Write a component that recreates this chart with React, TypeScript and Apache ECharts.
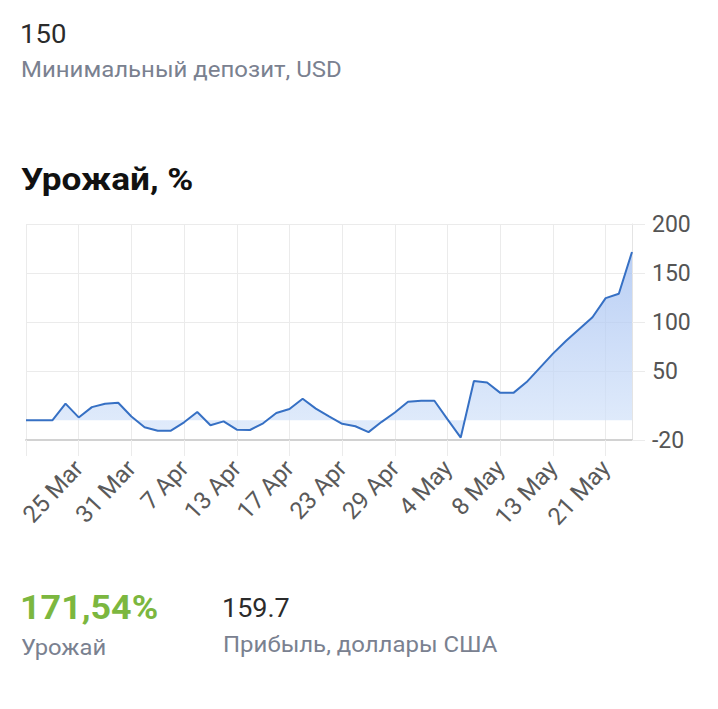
import React, { useEffect, useRef } from "react";
import * as echarts from "echarts";

const categories = [
  "19 Mar", "20 Mar", "21 Mar", "24 Mar", "25 Mar", "26 Mar", "27 Mar", "28 Mar",
  "31 Mar", "2 Apr", "3 Apr", "4 Apr", "7 Apr", "8 Apr", "9 Apr", "11 Apr",
  "13 Apr", "14 Apr", "15 Apr", "16 Apr", "17 Apr", "18 Apr", "21 Apr", "22 Apr",
  "23 Apr", "24 Apr", "25 Apr", "28 Apr", "29 Apr", "30 Apr", "1 May", "2 May",
  "4 May", "5 May", "6 May", "7 May", "8 May", "9 May", "10 May", "12 May",
  "13 May", "15 May", "17 May", "19 May", "21 May", "22 May", "24 May",
];

const yieldValues = [
  0, 0, 0, 17, 3, 13.5, 17, 18,
  4, -7, -10.5, -10.5, -2, 8.5, -5, -1,
  -9.5, -9.8, -3, 7.5, 11.5, 22, 12, 4,
  -3.5, -6, -12, -1.5, 8, 19, 20, 20,
  1, -17.5, 40, 38.5, 28, 28, 39, 53.5,
  68, 81, 93, 105, 124.5, 129, 171.54,
];

const yTickValues = [-20, 50, 100, 150, 200];

const minDeposit = "150";
const minDepositLabel = "Минимальный депозит, USD";
const chartTitle = "Урожай, %";
const yieldText = "171,54%";
const yieldLabel = "Урожай";
const profitText = "159.7";
const profitLabel = "Прибыль, доллары США";

const FONT = "Roboto";
const GRID = "#ebebeb";

export default function App() {
  const ref = useRef<HTMLDivElement>(null);

  useEffect(() => {
    const chart = echarts.init(ref.current!, null, { renderer: "svg" });
    const every4 = (i: number) => i % 4 === 0;
    const txt = (
      text: string,
      x: number,
      y: number,
      fontSize: number,
      fill: string,
      scaleX: number,
      bold = false
    ) => ({
      type: "text",
      x,
      y,
      scaleX,
      style: {
        text,
        fontSize,
        fontWeight: bold ? "bold" : "normal",
        fontFamily: FONT,
        fill,
        align: "left",
        verticalAlign: "middle",
      },
    });
    chart.setOption({
      animation: false,
      grid: {
        left: 26,
        right: 86,
        top: 224,
        bottom: 269,
        containLabel: false,
        outerBoundsMode: "none",
      },
      xAxis: {
        type: "category",
        boundaryGap: false,
        data: categories,
        axisLine: { onZero: false, lineStyle: { color: "#d2d2d2", width: 2 } },
        axisTick: {
          show: true,
          interval: (i: number) => every4(i),
          length: 16,
          lineStyle: { color: GRID },
        },
        axisLabel: {
          interval: (i: number) => every4(i) && i > 0,
          rotate: 47,
          fontSize: 24,
          fontFamily: FONT,
          color: "#5a5a5a",
          margin: 24,
        },
        splitLine: {
          show: true,
          interval: (i: number) => every4(i),
          lineStyle: { color: GRID, width: 1 },
        },
      },
      yAxis: {
        type: "value",
        position: "right",
        min: -20,
        max: 200,
        axisLine: { show: true, lineStyle: { color: "#e4e4e4" } },
        axisTick: {
          show: true,
          customValues: yTickValues,
          length: 13,
          lineStyle: { color: GRID },
        },
        axisLabel: {
          customValues: yTickValues,
          fontSize: 23,
          fontFamily: FONT,
          color: "#555555",
          margin: 20,
        },
        splitLine: { show: true, lineStyle: { color: GRID } },
      },
      series: [
        {
          type: "line",
          data: yieldValues,
          symbol: "none",
          lineStyle: { color: "#3670c4", width: 2 },
          areaStyle: {
            color: new echarts.graphic.LinearGradient(0, 0, 0, 1, [
              { offset: 0, color: "#9dbbf0" },
              { offset: 1, color: "#d6e5fa" },
            ]),
          },
        },
      ],
      graphic: [
        txt(minDeposit, 20, 34.5, 25, "#2b2b2b", 1.1),
        txt(minDepositLabel, 21, 70, 22, "#7a8190", 1.09),
        txt(chartTitle, 21, 179, 32, "#111111", 1.1, true),
        txt(yieldText, 20, 608, 34, "#7cb73f", 1.055, true),
        txt(yieldLabel, 21, 648, 22, "#7a8190", 1.08),
        txt(profitText, 222, 608, 25, "#2b2b2b", 1.08),
        txt(profitLabel, 223, 645, 22, "#7a8190", 1.09),
      ],
    });
    return () => chart.dispose();
  }, []);

  return (
    <div
      ref={ref}
      style={{ position: "absolute", left: 0, top: 0, width: 718, height: 709 }}
    />
  );
}
